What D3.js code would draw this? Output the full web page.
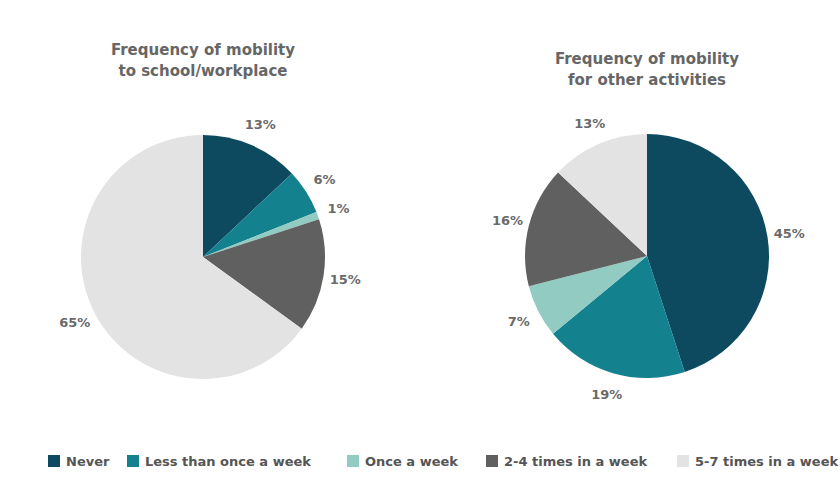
<!DOCTYPE html>
<html><head><meta charset="utf-8">
<script src="https://cdn.jsdelivr.net/npm/d3@7"></script>
<style>html,body{margin:0;padding:0;background:#fff}</style>
</head><body>
<svg id="c" width="840" height="493"></svg>
<script>
const categories = ["Never", "Less than once a week", "Once a week", "2-4 times in a week", "5-7 times in a week"];
const colors = ["#0e4a5f", "#14818f", "#91cbc2", "#606060", "#e3e3e3"];
const schoolValues = [13, 6, 1, 15, 65];
const otherValues = [45, 19, 7, 16, 13];
const titles = [["Frequency of mobility", "to school/workplace"], ["Frequency of mobility", "for other activities"]];

const svg = d3.select("#c");
const font = "'DejaVu Sans', sans-serif";
const color = d3.scaleOrdinal().domain(categories).range(colors);
const pie = d3.pie().sort(null).value(d => d.v);
const R = 122;
const arc = d3.arc().innerRadius(0).outerRadius(R);
const labelArc = d3.arc().innerRadius(144).outerRadius(144);

const charts = [
  {vals: schoolValues, cx: 203, cy: 257, title: titles[0], ty: 55},
  {vals: otherValues, cx: 647, cy: 256, title: titles[1], ty: 64}
];
charts.forEach(ch => {
  const data = categories.map((c, i) => ({c, v: ch.vals[i]}));
  const g = svg.append("g").attr("transform", `translate(${ch.cx},${ch.cy})`);
  const arcs = pie(data);
  g.selectAll("path").data(arcs).join("path")
    .attr("d", arc).attr("fill", d => color(d.data.c));
  g.selectAll("text.lbl").data(arcs).join("text").attr("class", "lbl")
    .attr("transform", d => `translate(${labelArc.centroid(d)})`)
    .attr("text-anchor", "middle").attr("dominant-baseline", "central")
    .attr("font-family", font).attr("font-size", 13).attr("font-weight", 700)
    .attr("fill", "#6a6a6a")
    .text(d => d.data.v + "%");
  const t = svg.append("text").attr("x", ch.cx).attr("y", ch.ty)
    .attr("text-anchor", "middle").attr("font-family", font)
    .attr("font-size", 15).attr("font-weight", 700).attr("fill", "#666");
  ch.title.forEach((line, i) => t.append("tspan").attr("x", ch.cx).attr("dy", i ? 21 : 0).text(line));
});

// legend
const legX = [48, 127, 347, 486, 677];
const leg = svg.append("g");
categories.forEach((c, i) => {
  const gi = leg.append("g").attr("transform", `translate(${legX[i]},455)`);
  gi.append("rect").attr("width", 12).attr("height", 12).attr("fill", color(c));
  gi.append("text").attr("x", 18).attr("y", 11).attr("font-family", font)
    .attr("font-size", 13).attr("font-weight", 700).attr("fill", "#555").text(c);
});
</script>
</body></html>
